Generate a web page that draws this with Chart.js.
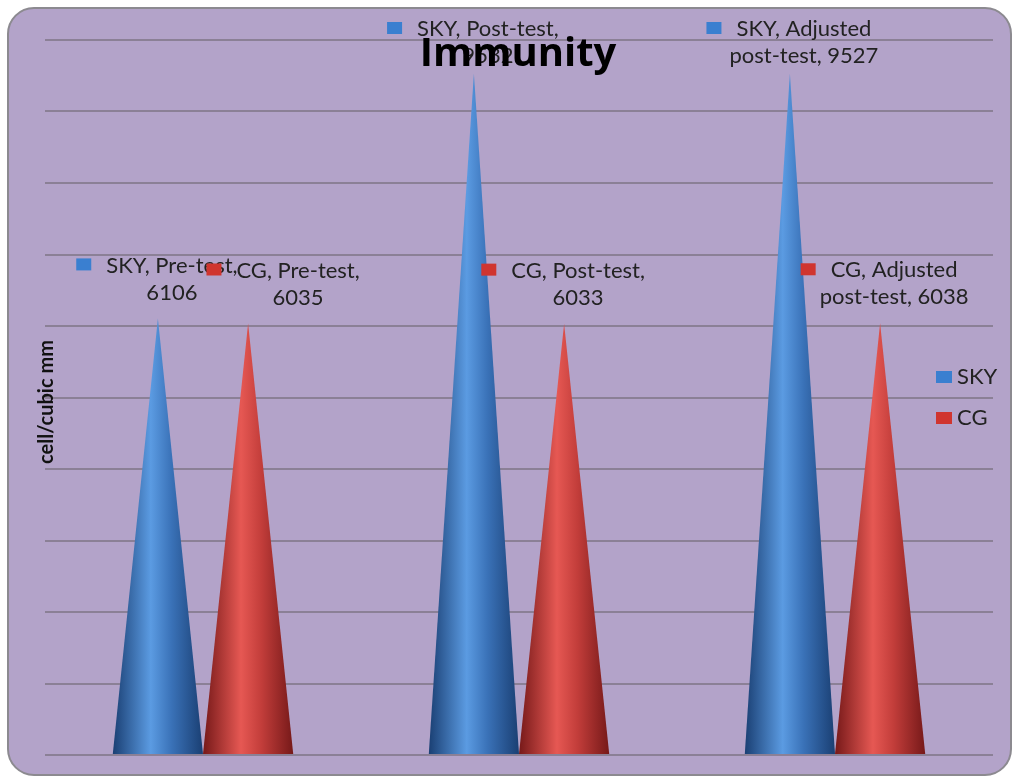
<!DOCTYPE html>
<html>
<head>
<meta charset="utf-8">
<script src="https://cdn.jsdelivr.net/npm/chart.js@4/dist/chart.umd.min.js"></script>
<style>
  html, body { margin: 0; padding: 0; background: #fff; }
  #wrap { width: 1016px; height: 780px; position: relative; }
</style>
</head>
<body>
<div id="wrap"><canvas id="myChart"></canvas></div>
<script>
// chart data
const categories = ["Pre-test", "Post-test", "Adjusted post-test"];
const skyValues = [6106, 9532, 9527];
const cgValues = [6035, 6033, 6038];
const seriesNames = ["SKY", "CG"];
const yTicks = [0, 1000, 2000, 3000, 4000, 5000, 6000, 7000, 8000, 9000, 10000];

const FONT = "Lato, 'Open Sans', sans-serif";
const coneColors = [
  { dark: "#1a3f73", light: "#5b9be2", mid: "#3a72b8", key: "#3a7fd0" },
  { dark: "#761919", light: "#e65853", mid: "#c23d3a", key: "#d0352f" }
];

// box, border, title, axis title
const framePlugin = {
  id: "frame",
  beforeDraw(chart) {
    const ctx = chart.ctx;
    ctx.save();
    ctx.fillStyle = "#fff";
    ctx.fillRect(0, 0, chart.width, chart.height);
    ctx.beginPath();
    ctx.roundRect(8, 8, 1003, 767, 26);
    ctx.fillStyle = "#b3a3c9";
    ctx.fill();
    ctx.lineWidth = 2;
    ctx.strokeStyle = "#8c8a90";
    ctx.stroke();
    ctx.restore();
  },
  afterDraw(chart) {
    const ctx = chart.ctx;
    ctx.save();
    // y axis title
    ctx.translate(47, 402);
    ctx.rotate(-Math.PI / 2);
    ctx.fillStyle = "#111";
    ctx.font = "bold 20px " + FONT;
    ctx.textAlign = "center";
    ctx.textBaseline = "middle";
    ctx.fillText("cell/cubic mm", 0, 0);
    ctx.restore();

    // legend (overlaid on the plot, right side)
    ctx.save();
    ctx.font = "22px " + FONT;
    ctx.textBaseline = "middle";
    chart.data.datasets.forEach((ds, i) => {
      const y = 377 + i * 41;
      ctx.fillStyle = coneColors[i].key;
      ctx.fillRect(936, y - 6, 16, 12);
      ctx.fillStyle = "#222";
      ctx.fillText(ds.label, 957, y);
    });
    ctx.restore();

    // title drawn on top of the labels, as in the original
    ctx.save();
    ctx.fillStyle = "#000";
    ctx.font = "bold 40px 'Open Sans', sans-serif";
    ctx.textAlign = "center";
    ctx.textBaseline = "alphabetic";
    ctx.fillText("Immunity", 518, 66);
    ctx.restore();
  }
};

function wrapText(ctx, text, maxW) {
  const words = text.split(" ");
  const lines = [];
  let cur = "";
  words.forEach(w => {
    const test = cur ? cur + " " + w : w;
    if (ctx.measureText(test).width > maxW && cur) {
      lines.push(cur);
      cur = w;
    } else {
      cur = test;
    }
  });
  if (cur) lines.push(cur);
  return lines;
}

// draw each bar as a shaded cone, then its data label
const conePlugin = {
  id: "cones",
  afterDatasetsDraw(chart) {
    const ctx = chart.ctx;
    chart.data.datasets.forEach((ds, di) => {
      const meta = chart.getDatasetMeta(di);
      const c = coneColors[di];
      meta.data.forEach(bar => {
        const { x, y, base, width } = bar.getProps(["x", "y", "base", "width"], true);
        const l = x - width / 2, r = x + width / 2;
        const g = ctx.createLinearGradient(l, 0, r, 0);
        g.addColorStop(0, c.dark);
        g.addColorStop(0.42, c.light);
        g.addColorStop(0.65, c.mid);
        g.addColorStop(1, c.dark);
        ctx.save();
        ctx.beginPath();
        ctx.moveTo(l, base);
        ctx.lineTo(x, y);
        ctx.lineTo(r, base);
        ctx.closePath();
        ctx.fillStyle = g;
        ctx.fill();
        ctx.restore();
      });
    });

    // data labels
    ctx.save();
    ctx.font = "22px " + FONT;
    ctx.textAlign = "center";
    ctx.textBaseline = "middle";
    chart.data.datasets.forEach((ds, di) => {
      const meta = chart.getDatasetMeta(di);
      meta.data.forEach((bar, i) => {
        const text = ds.label + ", " + categories[i] + ", " + ds.data[i];
        const lines = wrapText(ctx, text, 165);
        const nudge = (di === 1 && i === 0) ? 36 : 0;
        const cx = bar.x + 14 + nudge;
        const lastY = Math.max(bar.y - 26, 56);
        const firstY = lastY - 27 * (lines.length - 1);
        const w0 = ctx.measureText(lines[0]).width;
        ctx.fillStyle = coneColors[di].key;
        ctx.fillRect(cx - w0 / 2 - 30, firstY - 7, 15, 12);
        ctx.fillStyle = "#222";
        lines.forEach((ln, k) => ctx.fillText(ln, cx, firstY + k * 27));
      });
    });
    ctx.restore();
  }
};

const chart = new Chart(document.getElementById("myChart"), {
  type: "bar",
  data: {
    labels: categories,
    datasets: [
      { label: seriesNames[0], data: skyValues, backgroundColor: "rgba(0,0,0,0)" },
      { label: seriesNames[1], data: cgValues, backgroundColor: "rgba(0,0,0,0)" }
    ]
  },
  options: {
    responsive: true,
    maintainAspectRatio: false,
    animation: false,
    categoryPercentage: 0.571,
    barPercentage: 1.0,
    layout: { padding: { left: 45, right: 23, top: 40, bottom: 25 } },
    plugins: {
      legend: { display: false },
      title: { display: false },
      tooltip: { enabled: false }
    },
    scales: {
      x: { display: false },
      y: {
        min: yTicks[0],
        max: yTicks[yTicks.length - 1],
        afterBuildTicks: axis => { axis.ticks = yTicks.map(v => ({ value: v })); },
        ticks: { display: false },
        border: { display: false },
        grid: { color: "#8b8096", lineWidth: 2, drawTicks: false }
      }
    }
  },
  plugins: [framePlugin, conePlugin]
});
</script>
</body>
</html>
